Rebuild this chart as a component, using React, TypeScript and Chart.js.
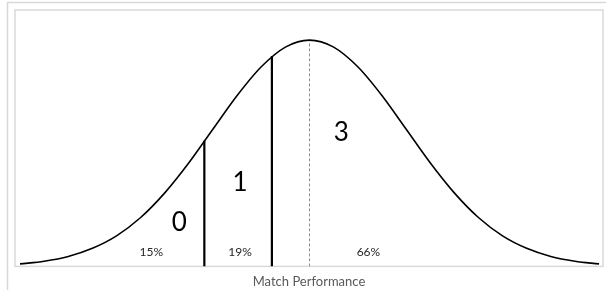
import React, { useEffect, useRef } from "react";
import { Chart, registerables } from "chart.js";

Chart.register(...registerables);

// Bell curve (z in standard deviations, height as % of peak)
const curveX = [-3, -2.75, -2.5, -2.25, -2, -1.75, -1.5, -1.25, -1, -0.75, -0.5, -0.25, 0, 0.25, 0.5, 0.75, 1, 1.25, 1.5, 1.75, 2, 2.25, 2.5, 2.75, 3];
const curveY = [1.1, 2.3, 4.4, 8.0, 13.5, 21.6, 32.5, 45.8, 60.7, 75.5, 88.2, 96.9, 100, 96.9, 88.2, 75.5, 60.7, 45.8, 32.5, 21.6, 13.5, 8.0, 4.4, 2.3, 1.1];

// Cut lines between bands
const cutX = [-1.09, -0.39];
const cutTop = [55.5, 93];
const meanX = 0;
const meanTop = 100;

// Band labels
const bandLabels = ["0", "1", "3"];
const bandLabelX = [-1.35, -0.72, 0.33];
const bandLabelY = [19.5, 37.2, 59.3];

const shareLabels = ["15%", "19%", "66%"];
const shareLabelX = [-1.64, -0.72, 0.61];
const shareLabelY = [6.4, 6.4, 6.4];

const axisTitle = "Match Performance";

const FONT = "Lato, 'Open Sans', 'Liberation Sans', sans-serif";

export default function App() {
  const ref = useRef<HTMLCanvasElement | null>(null);

  useEffect(() => {
    document.body.style.margin = "0";
    const canvas = ref.current;
    if (!canvas) return;

    const framePlugin = {
      id: "frame",
      beforeDraw(chart: any) {
        const { ctx, chartArea } = chart;
        ctx.save();
        ctx.fillStyle = "#ffffff";
        ctx.fillRect(0, 0, chart.width, chart.height);
        ctx.strokeStyle = "#d9d9d9";
        ctx.lineWidth = 1.5;
        ctx.strokeRect(7.5, 2.5, chart.width + 10, chart.height + 10);
        ctx.lineWidth = 1.5;
        ctx.strokeRect(chartArea.left, chartArea.top, chartArea.right - chartArea.left, chartArea.bottom - chartArea.top);
        ctx.restore();
      },
      afterDatasetsDraw(chart: any) {
        const { ctx } = chart;
        const xs = chart.scales.x;
        const ys = chart.scales.y;
        ctx.save();
        ctx.textAlign = "center";
        ctx.textBaseline = "middle";
        ctx.fillStyle = "#000000";
        ctx.font = `26px ${FONT}`;
        bandLabels.forEach((t, i) => {
          ctx.fillText(t, xs.getPixelForValue(bandLabelX[i]), ys.getPixelForValue(bandLabelY[i]));
        });
        ctx.fillStyle = "#262626";
        ctx.font = `12px ${FONT}`;
        shareLabels.forEach((t, i) => {
          ctx.fillText(t, xs.getPixelForValue(shareLabelX[i]), ys.getPixelForValue(shareLabelY[i]));
        });
        ctx.restore();
      },
    };

    const chart = new Chart(canvas, {
      type: "scatter",
      data: {
        datasets: [
          {
            label: "curve",
            data: curveX.map((x, i) => ({ x, y: curveY[i] })),
            showLine: true,
            borderColor: "#000000",
            borderWidth: 1.6,
            pointRadius: 0,
            cubicInterpolationMode: "monotone",
          } as any,
          ...cutX.map((x, i) => ({
            label: "cut" + i,
            data: [
              { x, y: 0 },
              { x, y: cutTop[i] },
            ],
            showLine: true,
            borderColor: "#000000",
            borderWidth: 2.2,
            pointRadius: 0,
          })),
          {
            label: "mean",
            data: [
              { x: meanX, y: 0 },
              { x: meanX, y: meanTop },
            ],
            showLine: true,
            borderColor: "#8c8c8c",
            borderWidth: 1,
            borderDash: [3, 2],
            pointRadius: 0,
          },
        ],
      },
      options: {
        animation: false,
        responsive: false,
        maintainAspectRatio: false,
        layout: { padding: { left: 15, right: 3, top: 10, bottom: 0 } },
        plugins: {
          legend: { display: false },
          tooltip: { enabled: false },
        },
        scales: {
          x: {
            type: "linear",
            min: -3.052,
            max: 3.041,
            grid: { display: false, drawTicks: false },
            border: { display: false },
            ticks: { display: false },
            title: {
              display: true,
              text: axisTitle,
              color: "#595959",
              font: { family: FONT, size: 13 },
              padding: { top: 8, bottom: 0 },
            },
          },
          y: {
            type: "linear",
            display: false,
            min: 0,
            max: 113.3,
          },
        },
      },
      plugins: [framePlugin],
    });

    return () => chart.destroy();
  }, []);

  return (
    <div style={{ width: 606, height: 290 }}>
      <canvas ref={ref} width={606} height={290} style={{ display: "block" }} />
    </div>
  );
}
